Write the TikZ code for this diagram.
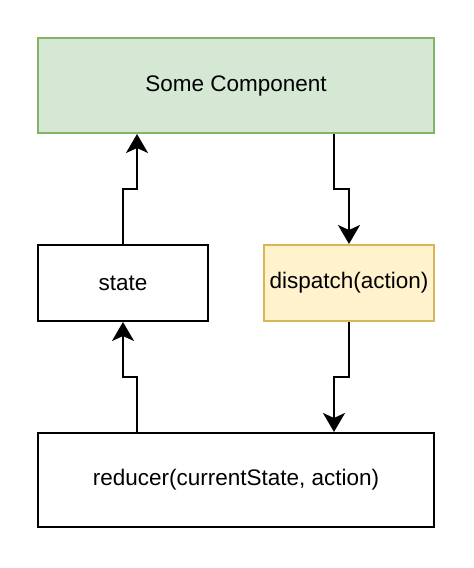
\documentclass[tikz,border=0pt]{standalone}
\usepackage{fontspec}
\setmainfont{Liberation Sans}
\usetikzlibrary{arrows.meta}
\definecolor{gfill}{HTML}{D5E8D4}
\definecolor{gdraw}{HTML}{82B366}
\definecolor{yfill}{HTML}{FFF2CC}
\definecolor{ydraw}{HTML}{D6B656}
\tikzset{
  box/.style={draw=black, fill=white, line width=2pt, rectangle, inner sep=0pt,
    font=\fontsize{22.5}{27}\selectfont},
  arr/.style={line width=2pt, -{Stealth[length=19pt,width=22pt,inset=5pt]}},
}
\begin{document}
\begin{tikzpicture}[x=1pt,y=-1pt]
\useasboundingbox (0,0) rectangle (474,568);
\node[box, fill=gfill, draw=gdraw, minimum width=396pt, minimum height=95pt] (top) at (236,85.5) {Some Component};
\node[box, minimum width=170pt, minimum height=76pt] (state) at (123,283) {state};
\node[box, fill=yfill, draw=ydraw, minimum width=170pt, minimum height=76pt] (disp) at (349,283) {dispatch(action)};
\node[box, minimum width=396pt, minimum height=94pt] (red) at (236,480) {reducer(currentState, action)};
\coordinate (k1) at (137,189);
\coordinate (k2) at (334,189);
\coordinate (k3) at (334,377);
\coordinate (k4) at (137,377);
\draw[arr] (state.north) |- (k1) -- (top.south -| k1);
\draw[arr] (top.south -| k2) -- (k2) -| (disp.north);
\draw[arr] (disp.south) |- (k3) -- (red.north -| k3);
\draw[arr] (red.north -| k4) -- (k4) -| (state.south);
\end{tikzpicture}
\end{document}
